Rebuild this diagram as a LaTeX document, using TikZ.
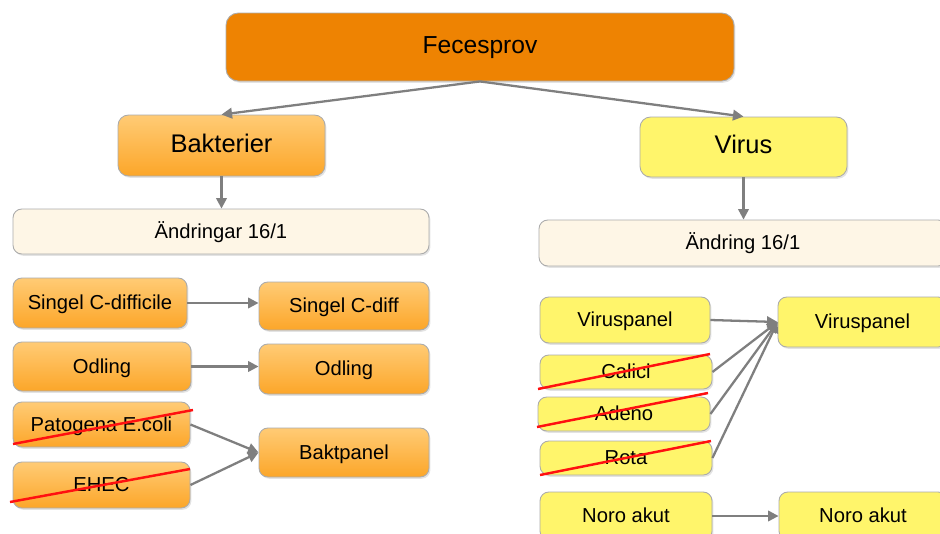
\documentclass[tikz,border=0pt]{standalone}
\usepackage{fontspec}
\setmainfont{Liberation Sans}
\usetikzlibrary{arrows.meta,shadows}
\definecolor{fecor}{HTML}{EE8302}
\definecolor{orT}{HTML}{FFCB75}
\definecolor{orB}{HTML}{FCA629}
\definecolor{yel}{HTML}{FFF56B}
\definecolor{cream}{HTML}{FEF6E6}
\definecolor{bord}{HTML}{ABABAB}
\definecolor{arr}{HTML}{7F7F7F}
\definecolor{strk}{HTML}{FF1010}
\begin{document}
\begin{tikzpicture}[x=0.02cm,y=-0.02cm,
 base/.style={draw=bord, line width=0.5pt, rounded corners=5pt, inner sep=0pt, align=center,
   text height=1.45ex, text depth=0pt,
   drop shadow={opacity=0.22,shadow xshift=0.8pt,shadow yshift=-1pt}},
 sz/.style 2 args={minimum width=#1*0.02cm, minimum height=#2*0.02cm},
 topbox/.style={base, rounded corners=7pt, fill=fecor, font=\fontsize{14}{16}\selectfont},
 orbig/.style={base, rounded corners=6pt, top color=orT, bottom color=orB, font=\fontsize{14.5}{16}\selectfont},
 yelbig/.style={base, rounded corners=6pt, fill=yel, font=\fontsize{14.5}{16}\selectfont},
 notebox/.style={base, fill=cream, font=\fontsize{11.5}{13}\selectfont},
 orsmall/.style={base, top color=orT, bottom color=orB, font=\fontsize{11.5}{13}\selectfont},
 yelsmall/.style={base, fill=yel, font=\fontsize{11.5}{13}\selectfont},
 conn/.style={draw=arr, line width=1.3pt, -{Triangle[length=6pt,width=6pt]}},
 strike/.style={draw=strk, line width=1.4pt}
]
\useasboundingbox (0,0) rectangle (940,534);
% top
\node[topbox, sz={508}{68}] (fec) at (480,47) {Fecesprov};
\node[orbig, sz={207}{61}] (bak) at (221.5,145.5) {Bakterier};
\node[yelbig, sz={207}{60}] (vir) at (743.5,147) {Virus};
\node[notebox, sz={416}{45}] (andL) at (221,231.5) {Ändringar 16/1};
\node[notebox, sz={408}{46}] (andR) at (743,243) {Ändring 16/1};
% bacteria column
\node[orsmall, sz={174}{50}] (sc1) at (100,303) {Singel C-difficile};
\node[orsmall, sz={170}{48}] (sc2) at (344,306) {Singel C-diff};
\node[orsmall, sz={178}{49}] (od1) at (102,366.5) {Odling};
\node[orsmall, sz={170}{50}] (od2) at (344,369) {Odling};
\node[orsmall, sz={177}{45}] (pat) at (101.5,424.5) {Patogena E.coli};
\node[orsmall, sz={177}{46}] (ehec) at (101.5,485) {EHEC};
\node[orsmall, sz={170}{49}] (bp) at (344,452.5) {Baktpanel};
% virus column
\node[yelsmall, sz={170}{46}] (vp1) at (625,320) {Viruspanel};
\node[yelsmall, sz={169}{50}] (vp2) at (862.5,322) {Viruspanel};
\node[yelsmall, sz={172}{34}] (cal) at (626,372) {Calici};
\node[yelsmall, sz={172}{34}] (ade) at (624,414) {Adeno};
\node[yelsmall, sz={172}{34}] (rot) at (626,458) {Rota};
\node[yelsmall, sz={172}{48}] (no1) at (626,516) {Noro akut};
\node[yelsmall, sz={168}{48}] (no2) at (863,516) {Noro akut};
% connectors
\draw[conn] (fec.south) -- (bak.north);
\draw[conn] (fec.south) -- (vir.north);
\draw[conn] (bak.south) -- (bak.south |- andL.north);
\draw[conn] (vir.south) -- (vir.south |- andR.north);
\draw[conn] (sc1.east) -- (sc1.east -| sc2.west);
\draw[conn] (od1.east) -- (od1.east -| od2.west);
\draw[conn] (pat.east) -- (bp.west);
\draw[conn] (ehec.east) -- (bp.west);
\draw[conn] (vp1.east) -- (vp2.west);
\draw[conn] (cal.east) -- (vp2.west);
\draw[conn] (ade.east) -- (vp2.west);
\draw[conn] (rot.east) -- (vp2.west);
\draw[conn] (no1.east) -- (no1.east -| no2.west);
% strike-throughs
\draw[strike] (13,444) -- (193,410);
\draw[strike] (10,502) -- (190,469);
\draw[strike] (538,389) -- (710,354);
\draw[strike] (537,427) -- (708,393);
\draw[strike] (540,475) -- (711,441);
\end{tikzpicture}
\end{document}
